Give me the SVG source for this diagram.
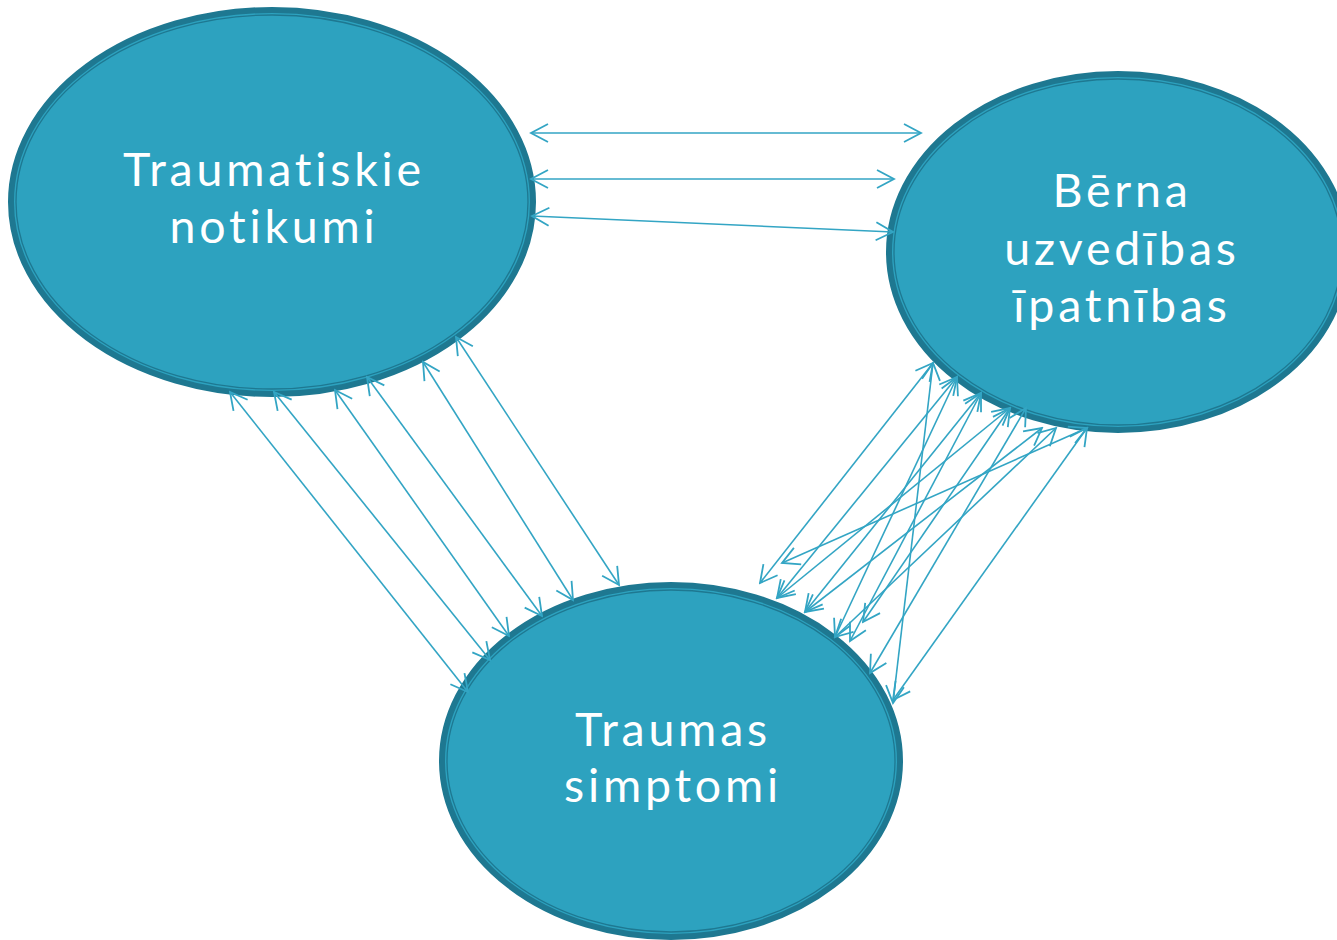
<svg xmlns="http://www.w3.org/2000/svg" width="1337" height="940" viewBox="0 0 1337 940">
<style>
.body{fill:#2da2bf;stroke:#1e7891;stroke-width:6}
.ring{fill:none;stroke:#1e7891;stroke-width:1.3}
.lbl{font-family:Lato,"Open Sans",sans-serif;font-size:46.5px;letter-spacing:3.8px;fill:#ffffff;text-anchor:middle}
.con line{stroke:#33a5c4;stroke-width:1.6;marker-start:url(#ah);marker-end:url(#ah)}
</style>
<defs>
<marker id="ah" viewBox="-1 -11 20 22" refX="17" refY="0" markerWidth="20" markerHeight="22" markerUnits="userSpaceOnUse" orient="auto-start-reverse">
<path d="M0,-9 L17,0 L0,9" fill="none" stroke="#33a5c4" stroke-width="1.8"/>
</marker>
</defs>
<rect width="1337" height="940" fill="#ffffff"/>
<g id="n1">
<ellipse class="body" cx="272" cy="202" rx="261" ry="192"/>
<ellipse class="ring" cx="272" cy="202" rx="256" ry="187"/>
<text class="lbl" x="274" y="186">Traumatiskie<tspan x="274" dy="57">notikumi</tspan></text>
</g>
<g id="n2">
<ellipse class="body" cx="1118" cy="252" rx="229" ry="178"/>
<ellipse class="ring" cx="1118" cy="252" rx="224" ry="173"/>
<text class="lbl" x="1122" y="207">Bērna<tspan x="1122" dy="58">uzvedības</tspan><tspan x="1122" dy="57">īpatnības</tspan></text>
</g>
<g id="n3">
<ellipse class="body" cx="671" cy="761" rx="229" ry="176"/>
<ellipse class="ring" cx="671" cy="761" rx="224" ry="171"/>
<text class="lbl" x="673" y="746">Traumas<tspan x="673" dy="56">simptomi</tspan></text>
</g>
<g id="connectors" class="con">
<line x1="531" y1="133" x2="921" y2="133"/>
<line x1="531" y1="179" x2="894" y2="179"/>
<line x1="532" y1="216" x2="893" y2="232"/>
<line x1="230" y1="392" x2="468" y2="692"/>
<line x1="274" y1="392" x2="490" y2="660"/>
<line x1="335" y1="390" x2="509" y2="636"/>
<line x1="367" y1="377" x2="542" y2="616"/>
<line x1="423" y1="362" x2="573" y2="600"/>
<line x1="456" y1="337" x2="619" y2="585"/>
<line x1="933" y1="363" x2="760" y2="583"/>
<line x1="957" y1="377" x2="777" y2="598"/>
<line x1="933" y1="363" x2="893" y2="703"/>
<line x1="957" y1="377" x2="835" y2="637"/>
<line x1="981" y1="393" x2="805" y2="612"/>
<line x1="981" y1="393" x2="850" y2="641"/>
<line x1="1010" y1="408" x2="777" y2="598"/>
<line x1="1010" y1="408" x2="863" y2="622"/>
<line x1="1026" y1="408" x2="870" y2="673"/>
<line x1="1042" y1="428" x2="805" y2="612"/>
<line x1="1056" y1="428" x2="835" y2="637"/>
<line x1="1087" y1="428" x2="782" y2="563"/>
<line x1="1087" y1="428" x2="893" y2="700"/>
</g>
</svg>
